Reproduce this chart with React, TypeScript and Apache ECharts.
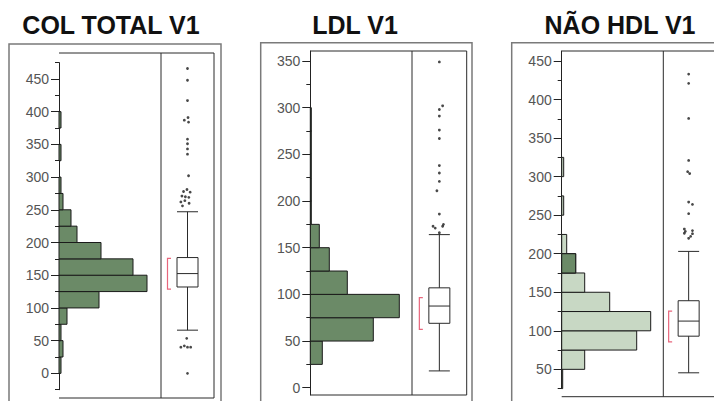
import { useEffect, useRef } from 'react';
import * as echarts from 'echarts';

// ---------------- data ----------------
const titles = ['COL TOTAL V1', 'LDL V1', 'NÃO HDL V1'];
const binWidth = 25;

// histogram bins (lower edge of each 25-wide bin) and bar lengths
const colBinStarts = [0, 25, 50, 75, 100, 125, 150, 175, 200, 225, 250, 275, 325, 375];
const colCounts = [1, 2, 1, 4, 20, 44, 37, 21, 9, 6, 2, 1, 1, 1];
const ldlBinStarts = [25, 50, 75, 100, 125, 150, 175, 200, 225, 250, 275];
const ldlCounts = [12, 63, 89, 37, 19, 9, 1, 1, 1, 1, 1];
const naoBinStarts = [25, 50, 75, 100, 125, 150, 175, 200, 250, 300];
const naoCounts = [1, 23, 75, 89, 48, 23, 14, 5, 2, 2];
// highlighted (selected) part of the histogram
const naoSelStarts = [175];
const naoSelCounts = [14];

// box plot: [lower whisker, Q1, median, Q3, upper whisker]
const colBox = [66, 132, 152.5, 177, 247];
const ldlBox = [18, 69, 87.5, 107, 164];
const naoBox = [45.5, 93, 112.6, 139, 203];

// shortest half brackets [low, high]
const colShortHalf = [128.6, 175.6];
const ldlShortHalf = [62.6, 96.5];
const naoShortHalf = [85.7, 125.5];

// outliers: values and their horizontal jitter (-1..1 of the box panel)
const colOutValues = [466, 448, 417, 391, 387, 384, 358, 351, 343, 335, 302, 281, 278, 277, 271, 270, 269, 264, 262, 260, 256, 53.5, 42, 40, 40, 40, 0];
const colOutJitter = [0, 0, 0, 0.02, -0.12, 0.04, 0, 0, 0, 0, 0.04, -0.02, -0.15, 0.1, -0.21, -0.08, 0.05, -0.1, -0.25, 0.06, -0.19, -0.03, -0.12, -0.25, 0, 0.12, 0];
const ldlOutValues = [349, 302, 298, 291, 276, 267, 238, 230, 221, 211, 186, 175, 173, 171, 173, 166];
const ldlOutJitter = [0, 0.12, 0, 0, 0, 0, 0, 0, 0, -0.09, 0, 0.15, -0.23, -0.15, 0.12, 0];
const naoOutValues = [433, 421, 375.5, 321, 306.5, 304, 267, 264, 252, 232, 229, 226.5, 230, 226, 222.5, 220];
const naoOutJitter = [0, 0, 0, 0, -0.04, 0.04, 0, 0.15, 0, -0.17, -0.13, -0.17, 0.15, 0.15, 0.08, 0];

// y axis ticks
const colMajor = [0, 50, 100, 150, 200, 250, 300, 350, 400, 450];
const colMinor = [-25, 25, 75, 125, 175, 225, 275, 325, 375, 425, 475];
const ldlMajor = [0, 50, 100, 150, 200, 250, 300, 350];
const ldlMinor = [25, 75, 125, 175, 225, 275, 325];
const naoMajor = [50, 100, 150, 200, 250, 300, 350, 400, 450];
const naoMinor = [25, 75, 125, 175, 225, 275, 325, 375, 425];

// axis extents
const colRange = [-25, 475];
const ldlRange = [-7.8, 360.7];
const naoRange = [25, 463];
const histMax = [51, 101.7, 101.6];

// ---------------- layout ----------------
const layout = [
  { titleX: 111, outer: [9, 44, 212], inner: [59, 161, 214], frameTop: 53, frameBottom: 398, gridTop: 62.6, gridBottom: 389.7 },
  { titleX: 355, outer: [260.7, 42.7, 211.3], inner: [310.3, 412, 466.7], frameTop: 51, frameBottom: 395, gridTop: 51, gridBottom: 395 },
  { titleX: 620, outer: [511.7, 42.7, 260], inner: [561.7, 663.3, 716.7], frameTop: 51, frameBottom: 396.7, gridTop: 51, gridBottom: 388.6 },
];

const DARK_GREEN = '#6b8a67';
const LIGHT_GREEN = '#c8d8c4';
const BRACKET = '#e8667c';

export default function App() {
  const ref = useRef<HTMLDivElement>(null);

  useEffect(() => {
    if (!ref.current) return;
    const chart = echarts.init(ref.current, undefined, { renderer: 'svg' });

    const panels = [
      { starts: colBinStarts, counts: colCounts, selStarts: [] as number[], selCounts: [] as number[], box: colBox, half: colShortHalf, outV: colOutValues, outJ: colOutJitter, major: colMajor, minor: colMinor, range: colRange, fill: DARK_GREEN },
      { starts: ldlBinStarts, counts: ldlCounts, selStarts: [] as number[], selCounts: [] as number[], box: ldlBox, half: ldlShortHalf, outV: ldlOutValues, outJ: ldlOutJitter, major: ldlMajor, minor: ldlMinor, range: ldlRange, fill: DARK_GREEN },
      { starts: naoBinStarts, counts: naoCounts, selStarts: naoSelStarts, selCounts: naoSelCounts, box: naoBox, half: naoShortHalf, outV: naoOutValues, outJ: naoOutJitter, major: naoMajor, minor: naoMinor, range: naoRange, fill: LIGHT_GREEN },
    ];

    const grid: any[] = [];
    const xAxis: any[] = [];
    const yAxis: any[] = [];
    const series: any[] = [];
    const graphic: any[] = [];

    const histRender = (fill: string) => (params: any, api: any) => {
      const y0 = api.value(0);
      const y1 = api.value(1);
      const c = api.value(2);
      const p0 = api.coord([0, y0]);
      const p1 = api.coord([c, y1]);
      return {
        type: 'rect',
        shape: { x: p0[0], y: p1[1], width: p1[0] - p0[0], height: p0[1] - p1[1] },
        style: { fill, stroke: '#1a1a1a', lineWidth: 1 },
      };
    };

    panels.forEach((p, i) => {
      const L = layout[i];
      const [innerLeft, divider, innerRight] = L.inner;
      const gTop = L.gridTop;
      const gH = L.gridBottom - L.gridTop;
      grid.push({ left: innerLeft, top: gTop, width: divider - innerLeft, height: gH });
      grid.push({ left: divider, top: gTop, width: innerRight - divider, height: gH });
      const gh = 2 * i;
      const gb = 2 * i + 1;

      xAxis.push({ type: 'value', gridIndex: gh, min: 0, max: histMax[i], show: false });
      xAxis.push({ type: 'category', gridIndex: gb, data: ['v'], show: false });
      xAxis.push({ type: 'value', gridIndex: gb, min: -1, max: 1, show: false });

      yAxis.push({
        type: 'value', gridIndex: gh, min: p.range[0], max: p.range[1], position: 'left',
        axisLine: { show: true, lineStyle: { color: '#222', width: 1 } },
        axisTick: { show: true, length: 8, customValues: p.major, lineStyle: { color: '#222', width: 1 } },
        axisLabel: { show: true, customValues: p.major, margin: 10, fontSize: 14, color: '#555', fontFamily: 'Liberation Sans' },
        splitLine: { show: false },
      });
      yAxis.push({
        type: 'value', gridIndex: gh, min: p.range[0], max: p.range[1], position: 'left',
        axisLine: { show: false },
        axisTick: { show: true, length: 4, customValues: p.minor, lineStyle: { color: '#222', width: 1 } },
        axisLabel: { show: false },
        splitLine: { show: false },
      });
      yAxis.push({ type: 'value', gridIndex: gb, min: p.range[0], max: p.range[1], show: false });

      const xh = 3 * i, xc = 3 * i + 1, xj = 3 * i + 2;
      const yh = 3 * i, yb = 3 * i + 2;

      series.push({
        type: 'custom', xAxisIndex: xh, yAxisIndex: yh,
        renderItem: histRender(p.fill),
        encode: { x: 2, y: [0, 1] },
        data: p.starts.map((s, k) => [s, s + binWidth, p.counts[k]]),
        z: 2,
      });
      if (p.selStarts.length) {
        series.push({
          type: 'custom', xAxisIndex: xh, yAxisIndex: yh,
          renderItem: histRender(DARK_GREEN),
          encode: { x: 2, y: [0, 1] },
          data: p.selStarts.map((s, k) => [s, s + binWidth, p.selCounts[k]]),
          z: 3,
        });
      }
      series.push({
        type: 'boxplot', xAxisIndex: xc, yAxisIndex: yb,
        boxWidth: [21, 21],
        itemStyle: { color: '#fff', borderColor: '#2a2a2a', borderWidth: 1 },
        data: [p.box],
      });
      series.push({
        type: 'custom', xAxisIndex: xc, yAxisIndex: yb,
        encode: { x: 0, y: [1, 2] },
        data: [[0, p.half[0], p.half[1]]],
        renderItem: (params: any, api: any) => {
          const a = api.coord([api.value(0), api.value(1)]);
          const b = api.coord([api.value(0), api.value(2)]);
          const x = a[0] - 20;
          return {
            type: 'polyline',
            shape: { points: [[x + 3.5, b[1]], [x, b[1]], [x, a[1]], [x + 3.5, a[1]]] },
            style: { stroke: BRACKET, lineWidth: 1.2, fill: 'none' },
          };
        },
      });
      series.push({
        type: 'scatter', xAxisIndex: xj, yAxisIndex: yb,
        symbol: 'circle', symbolSize: 2.8,
        itemStyle: { color: '#1a1a1a' },
        data: p.outV.map((v, k) => [p.outJ[k], v]),
      });

      // frames & title
      const [ox, oy, ow] = L.outer;
      graphic.push({ type: 'rect', shape: { x: ox, y: oy, width: ow, height: 420 }, style: { fill: 'none', stroke: '#7a7a7a', lineWidth: 1.5 }, z: 100 });
      graphic.push({
        type: 'polyline',
        shape: { points: [[innerLeft, L.frameTop], [innerRight, L.frameTop], [innerRight, L.frameBottom], [innerLeft, L.frameBottom]] },
        style: { fill: 'none', stroke: '#2a2a2a', lineWidth: 1 }, z: 100,
      });
      graphic.push({ type: 'line', shape: { x1: divider, y1: L.frameTop, x2: divider, y2: L.frameBottom }, style: { stroke: '#2a2a2a', lineWidth: 1 }, z: 100 });
      graphic.push({
        type: 'text', x: L.titleX, y: 25,
        style: { text: titles[i], fontSize: 25, fontWeight: 'bold', fontFamily: 'Liberation Sans', fill: '#111', textAlign: 'center', textVerticalAlign: 'middle' },
        z: 100,
      });
    });

    chart.setOption({
      animation: false,
      backgroundColor: '#fff',
      grid, xAxis, yAxis, series, graphic,
    });
    return () => chart.dispose();
  }, []);

  return <div ref={ref} style={{ position: 'fixed', left: 0, top: 0, width: 714, height: 401 }} />;
}
